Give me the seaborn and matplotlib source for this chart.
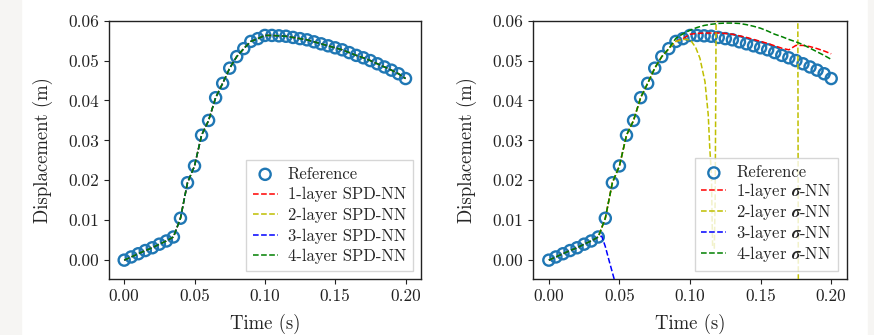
import numpy as np
import matplotlib
matplotlib.use("Agg")
import matplotlib.pyplot as plt
import seaborn as sns
from matplotlib.patches import Rectangle

# reference solution, sampled every 5 ms
t_ref = [0.000, 0.005, 0.010, 0.015, 0.020, 0.025, 0.030, 0.035, 0.040, 0.045,
         0.050, 0.055, 0.060, 0.065, 0.070, 0.075, 0.080, 0.085, 0.090, 0.095,
         0.100, 0.105, 0.110, 0.115, 0.120, 0.125, 0.130, 0.135, 0.140, 0.145,
         0.150, 0.155, 0.160, 0.165, 0.170, 0.175, 0.180, 0.185, 0.190, 0.195,
         0.200]
ref_disp = [0.0000, 0.0008, 0.0016, 0.0024, 0.0031, 0.0040, 0.0048, 0.0058, 0.0105, 0.0194,
            0.0236, 0.0313, 0.0350, 0.0407, 0.0443, 0.0481, 0.0510, 0.0530, 0.0548, 0.0555,
            0.0563, 0.0563, 0.0562, 0.0561, 0.0558, 0.0555, 0.0552, 0.0547, 0.0542, 0.0537,
            0.0532, 0.0527, 0.0520, 0.0513, 0.0507, 0.0500, 0.0492, 0.0484, 0.0476, 0.0467,
            0.0455]

# SPD-NN results (all lie on the reference)
spd_1 = list(ref_disp)
spd_2 = list(ref_disp)
spd_3 = list(ref_disp)
spd_4 = list(ref_disp)

# sigma-NN results
sig1_t = t_ref
sig1 = ref_disp[:20] + [0.0566, 0.0568, 0.0569, 0.0569, 0.0569, 0.0568, 0.0566, 0.0562, 0.0558, 0.0553,
                        0.0548, 0.0543, 0.0537, 0.0531, 0.0527, 0.0538, 0.0538, 0.0535, 0.0530, 0.0524,
                        0.0517]

# 2-layer blows up: dips, shoots off the top, then off the bottom
sig2_t = t_ref[:20] + [0.098, 0.101, 0.104, 0.107, 0.1106, 0.1129, 0.1140, 0.1152, 0.1156, 0.1160,
                       0.1172, 0.1178, 0.1182, 0.1186, 0.130, 0.160, 0.1762, 0.1768, 0.200]
sig2 = ref_disp[:19] + [0.0553, 0.0553, 0.0548, 0.0533, 0.0506, 0.0447, 0.0364, 0.0280, 0.0214, 0.0110,
                        0.0035, 0.0030, 0.0150, 0.0400, 0.0700, 0.0900, 0.0900, 0.0900, -0.0200, -0.0200]

sig3_t = t_ref[:8] + [0.0375, 0.0400, 0.0425, 0.0450, 0.0475]
sig3 = ref_disp[:8] + [0.0060, 0.0034, 0.0001, -0.0031, -0.0063]

sig4_t = t_ref
sig4 = ref_disp[:18] + [0.0556, 0.0567, 0.0576, 0.0583, 0.0588, 0.0591, 0.0593, 0.0594, 0.0594, 0.0593,
                        0.0590, 0.0586, 0.0581, 0.0574, 0.0566, 0.0560, 0.0553, 0.0547, 0.0540, 0.0531,
                        0.0522, 0.0513, 0.0503]

x_ticks = [0.00, 0.05, 0.10, 0.15, 0.20]
y_ticks = [0.00, 0.01, 0.02, 0.03, 0.04, 0.05, 0.06]

# plain matplotlib single-letter colours
RED, YELLOW, BLUE, GREEN = (1, 0, 0), (0.75, 0.75, 0), (0, 0, 1), (0, 0.5, 0)

sns.set_theme(style="ticks")
plt.rcParams["font.family"] = ["cmr10", "DejaVu Serif"]
plt.rcParams["mathtext.fontset"] = "cm"
plt.rcParams["axes.formatter.use_mathtext"] = True
plt.rcParams["axes.edgecolor"] = "#222222"
plt.rcParams["axes.linewidth"] = 1.0

fig = plt.figure(figsize=(8.74, 3.35), dpi=100)
# grey page margins of the screenshot
fig.patches.append(Rectangle((0, 0), 21 / 874, 1, transform=fig.transFigure,
                             color="#f6f5f3", zorder=-10))
fig.patches.append(Rectangle((868 / 874, 0), 6 / 874, 1, transform=fig.transFigure,
                             color="#f6f5f3", zorder=-10))

ax1 = fig.add_axes([0.1244, 0.1663, 0.3573, 0.772])
ax2 = fig.add_axes([0.6102, 0.1663, 0.3586, 0.772])


def draw_reference(ax):
    sns.scatterplot(x=t_ref, y=ref_disp, ax=ax, marker="o", s=64,
                    facecolors="none", edgecolors="#1f77b4", linewidths=1.7,
                    label="Reference", zorder=2)


def draw_line(ax, t, y, color, label):
    sns.lineplot(x=t, y=y, ax=ax, color=color, linestyle="--", linewidth=1.1,
                 sort=False, estimator=None, label=label, zorder=3)


draw_reference(ax1)
for y, c, n in [(spd_1, RED, 1), (spd_2, YELLOW, 2), (spd_3, BLUE, 3), (spd_4, GREEN, 4)]:
    draw_line(ax1, t_ref, y, c, f"{n}-layer SPD-NN")

draw_reference(ax2)
for t, y, c, n in [(sig1_t, sig1, RED, 1), (sig2_t, sig2, YELLOW, 2),
                   (sig3_t, sig3, BLUE, 3), (sig4_t, sig4, GREEN, 4)]:
    draw_line(ax2, t, y, c, rf"{n}-layer $\boldsymbol{{\sigma}}$-NN")

for ax, spacing in ((ax1, 0.32), (ax2, 0.06)):
    ax.set_xlim(-0.011, 0.211)
    ax.set_ylim(-0.0048, 0.06)
    ax.set_xticks(x_ticks)
    ax.set_yticks(y_ticks)
    ax.set_xticklabels([f"{v:.2f}" for v in x_ticks])
    ax.set_yticklabels([f"{v:.2f}" for v in y_ticks])
    ax.tick_params(direction="out", length=3.5, width=0.8, labelsize=12.5, colors="#222222")
    ax.set_xlabel("Time (s)", fontsize=13.5, labelpad=7)
    ax.set_ylabel("Displacement (m)", fontsize=13.5, labelpad=11)
    ax.legend(loc="lower right", fontsize=12, handlelength=1.5, labelspacing=spacing,
              handletextpad=0.6, borderpad=0.4, borderaxespad=0.5,
              frameon=True, fancybox=False, edgecolor="#cccccc")

fig.savefig("out.png", dpi=100)
